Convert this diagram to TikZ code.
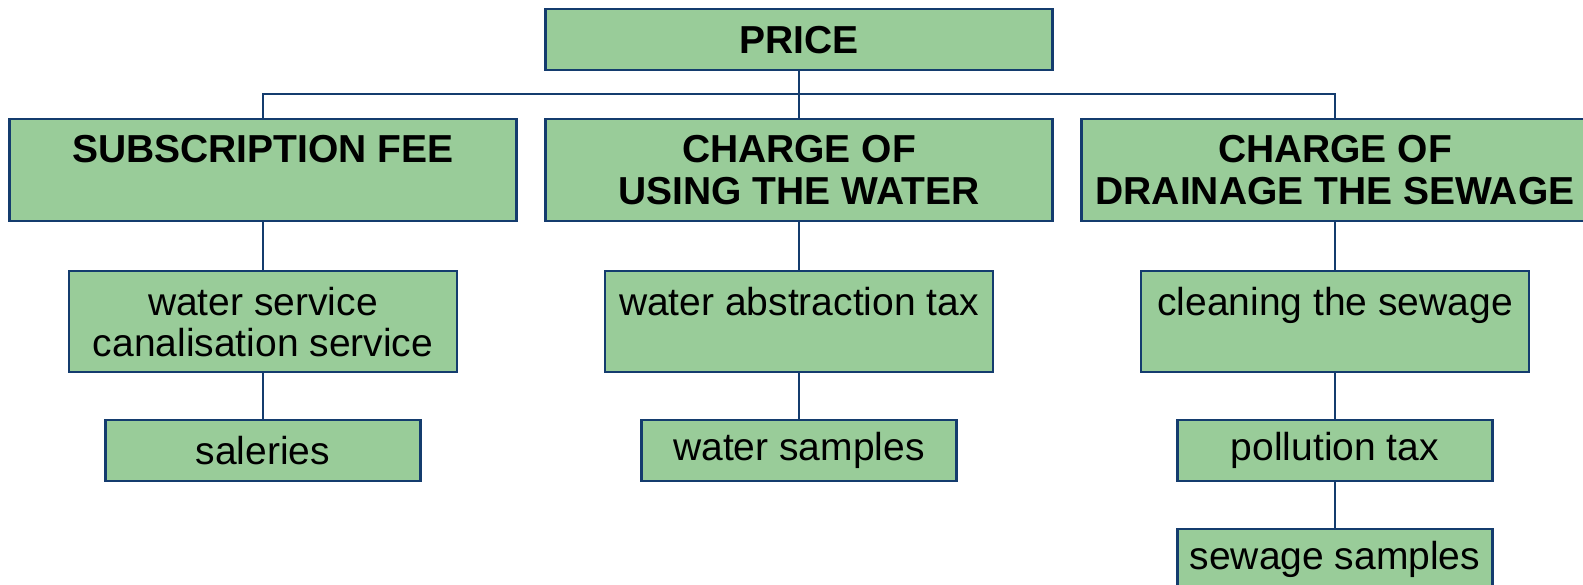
\documentclass[tikz,border=0pt]{standalone}
\usepackage{fontspec}
\setmainfont{Liberation Sans}
\definecolor{boxgreen}{RGB}{153,204,153}
\definecolor{boxblue}{RGB}{20,60,110}
\tikzset{
    chart/.style = {draw = boxblue, fill = boxgreen, line width = 2.2pt, align = center,
        anchor = north, inner sep = 0pt,
        font = \fontsize{39}{41}\selectfont},
    head/.style = {chart, font = \fontsize{39}{42}\selectfont\bfseries,
        minimum width = 507pt, minimum height = 102pt},
    item/.style = {chart, minimum width = 388pt, minimum height = 101pt},
    leaf/.style = {chart, minimum width = 315pt, minimum height = 61pt},
    link/.style = {draw = boxblue, line width = 2pt}
}
\begin{document}
\begin{tikzpicture}[x = 1pt, y = -1pt]
    \useasboundingbox (0,0) rectangle (1583,585);
    \node[head, minimum height = 61pt] (price) at (799,8) {PRICE};
    \node[head] (sub) at (263,118) {SUBSCRIPTION FEE\\~};
    \node[head] (use) at (799,118) {CHARGE OF\\USING THE WATER};
    \node[head] (drain) at (1335,118) {CHARGE OF\\DRAINAGE THE SEWAGE};
    \node[item] (service) at (263,270) {water service\\canalisation service};
    \node[item] (abstr) at (799,270) {water abstraction tax\\~};
    \node[item] (clean) at (1335,270) {cleaning the sewage\\~};
    \node[leaf] (salary) at (263,419) {saleries};
    \node[leaf] (wsample) at (799,419) {water samples};
    \node[leaf] (pollut) at (1335,419) {pollution tax};
    \node[leaf] (ssample) at (1335,528) {sewage samples};
    \coordinate (bus) at (0,94);
    \draw[link] (price) -- (use);
    \draw[link] (sub.north) -- (sub.north |- bus) -- (drain.north |- bus) -- (drain.north);
    \draw[link] (sub) -- (service) -- (salary);
    \draw[link] (use) -- (abstr) -- (wsample);
    \draw[link] (drain) -- (clean) -- (pollut) -- (ssample);
\end{tikzpicture}
\end{document}
